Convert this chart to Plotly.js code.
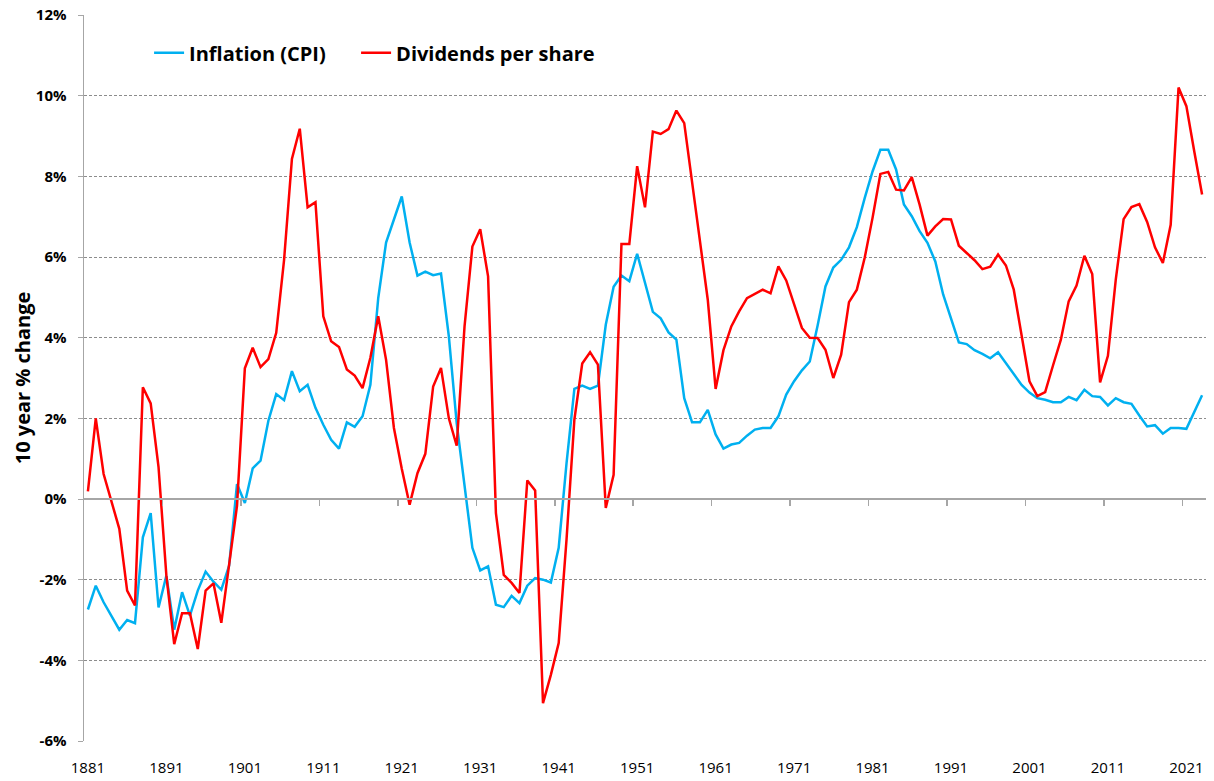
<!DOCTYPE html>
<html>
<head>
<meta charset="utf-8">
<script src="https://cdn.plot.ly/plotly-3.0.1.min.js"></script>
<style>html,body{margin:0;padding:0;background:#fff;}#chart{width:1214px;height:781px;}</style>
</head>
<body>
<div id="chart"></div>
<script>
const startYear = 1881;
const tickYears = [1881,1891,1901,1911,1921,1931,1941,1951,1961,1971,1981,1991,2001,2011,2021];
const tickLabels = ["1881","1891","1901","1911","1921","1931","1941","1951","1961","1971","1981","1991","2001","2011","2021"];
const yTicks = [-6,-4,-2,0,2,4,6,8,10,12];
const yTickLabels = ["-6%","-4%","-2%","0%","2%","4%","6%","8%","10%","12%"];

const inflationCPI = [
  -2.74, -2.15, -2.56, -2.9, -3.24, -3.0, -3.08, -0.95, -0.35, -2.69,
  -1.9, -3.24, -2.31, -2.89, -2.27, -1.8, -2.05, -2.25, -1.65, 0.37,
  -0.1, 0.76, 0.95, 1.94, 2.6, 2.45, 3.17, 2.67, 2.83, 2.26,
  1.84, 1.47, 1.25, 1.9, 1.79, 2.05, 2.83, 4.98, 6.36, 6.93,
  7.5, 6.36, 5.54, 5.64, 5.55, 5.59, 4.03, 1.88, 0.4, -1.21,
  -1.77, -1.67, -2.62, -2.68, -2.4, -2.58, -2.15, -1.96, -2.0, -2.07,
  -1.21, 0.89, 2.73, 2.81, 2.73, 2.81, 4.32, 5.26, 5.54, 5.4,
  6.08, 5.34, 4.64, 4.48, 4.13, 3.95, 2.5, 1.9, 1.9, 2.21,
  1.6, 1.25, 1.35, 1.39, 1.57, 1.72, 1.76, 1.76, 2.05, 2.59,
  2.92, 3.19, 3.41, 4.3, 5.27, 5.74, 5.93, 6.24, 6.74, 7.46,
  8.12, 8.66, 8.66, 8.17, 7.3, 7.01, 6.64, 6.35, 5.89, 5.07,
  4.49, 3.88, 3.84, 3.69, 3.6, 3.49, 3.64, 3.37, 3.08, 2.83,
  2.64, 2.5, 2.46, 2.4, 2.4, 2.53, 2.45, 2.71, 2.55, 2.53,
  2.32, 2.5, 2.4, 2.36, 2.07, 1.8, 1.83, 1.62, 1.76, 1.76,
  1.74, 2.17, 2.57
];

const dividendsPerShare = [
  0.19, 2.0, 0.62, -0.05, -0.74, -2.27, -2.64, 2.77, 2.37, 0.79,
  -1.9, -3.6, -2.83, -2.83, -3.72, -2.27, -2.09, -3.07, -1.6, -0.17,
  3.24, 3.75, 3.27, 3.47, 4.12, 5.93, 8.43, 9.18, 7.23, 7.36,
  4.53, 3.91, 3.77, 3.21, 3.06, 2.75, 3.5, 4.53, 3.45, 1.76,
  0.75, -0.14, 0.64, 1.12, 2.79, 3.25, 2.0, 1.32, 4.28, 6.26,
  6.69, 5.52, -0.35, -1.88, -2.08, -2.33, 0.46, 0.21, -5.06, -4.36,
  -3.57, -1.0, 1.97, 3.36, 3.64, 3.33, -0.22, 0.6, 6.32, 6.32,
  8.25, 7.23, 9.11, 9.05, 9.17, 9.63, 9.32, 7.9, 6.45, 4.94,
  2.73, 3.69, 4.28, 4.65, 4.98, 5.08, 5.19, 5.1, 5.77, 5.42,
  4.84, 4.24, 4.0, 3.99, 3.7, 3.0, 3.58, 4.88, 5.19, 5.98,
  6.97, 8.06, 8.11, 7.67, 7.65, 7.98, 7.3, 6.53, 6.76, 6.94,
  6.93, 6.28, 6.1, 5.92, 5.7, 5.76, 6.06, 5.79, 5.19, 4.1,
  2.92, 2.55, 2.65, 3.31, 3.95, 4.9, 5.29, 6.03, 5.58, 2.89,
  3.55, 5.44, 6.94, 7.24, 7.31, 6.87, 6.24, 5.85, 6.8, 10.2,
  9.74, 8.62, 7.55
];

const years = inflationCPI.map((_, i) => startYear + i);
const boundaryTicks = tickYears.slice(1).map(y => y - 0.5);

const font = "'Open Sans', 'Liberation Sans', sans-serif";

const traces = [
  {x: years, y: inflationCPI, name: "Inflation (CPI)", type: "scatter", mode: "lines",
   line: {color: "#00B0F0", width: 2.5}},
  {x: years, y: dividendsPerShare, name: "Dividends per share", type: "scatter", mode: "lines",
   line: {color: "#FF0000", width: 2.5}},
  {x: [null], y: [null], name: " ", type: "scatter", mode: "lines",
   line: {color: "rgba(0,0,0,0)", width: 0}, showlegend: true, hoverinfo: "skip"},
  {x: [years[0]], y: [0], xaxis: "x2", yaxis: "y", type: "scatter", mode: "none", showlegend: false, hoverinfo: "skip"}
];

const layout = {
  width: 1214, height: 781,
  margin: {l: 84, r: 8, t: 15, b: 40},
  paper_bgcolor: "#fff", plot_bgcolor: "#fff",
  showlegend: true,
  legend: {orientation: "h", x: 0.058, y: 0.948, xanchor: "left", yanchor: "middle",
           font: {family: font, size: 20, color: "#000", weight: "bold"},
           bgcolor: "rgba(0,0,0,0)", entrywidth: 162, entrywidthmode: "pixels"},
  xaxis: {range: [1880.5, 2023.5], tickmode: "array", tickvals: tickYears, ticktext: tickLabels,
          showgrid: false, zeroline: false, showline: false, ticks: "",
          ticklabelstandoff: 16,
          tickfont: {family: font, size: 15, color: "#000"}},
  xaxis2: {range: [1880.5, 2023.5], overlaying: "x", anchor: "free", position: 1/3, side: "bottom",
           showline: true, linecolor: "#A6A6A6", linewidth: 2, tickmode: "array", tickvals: boundaryTicks,
           ticks: "outside", ticklen: 6, tickcolor: "#A6A6A6", tickwidth: 1.5,
           showticklabels: false, showgrid: false, zeroline: false},
  yaxis: {range: [-6, 12], tickmode: "array", tickvals: yTicks, ticktext: yTickLabels,
          showgrid: true, gridcolor: "#8C8C8C", gridwidth: 1, griddash: "3px,2px",
          zeroline: false, showline: true, linecolor: "#A6A6A6", linewidth: 1.5,
          ticks: "outside", ticklen: 5, tickcolor: "#A6A6A6", ticklabelstandoff: 8,
          tickfont: {family: font, size: 15, color: "#000", weight: "bold"},
          title: {text: "10 year % change", standoff: 0,
                  font: {family: font, size: 20, color: "#000", weight: "bold"}}}
};

Plotly.newPlot("chart", traces, layout, {displayModeBar: false, staticPlot: true});
</script>
</body>
</html>
